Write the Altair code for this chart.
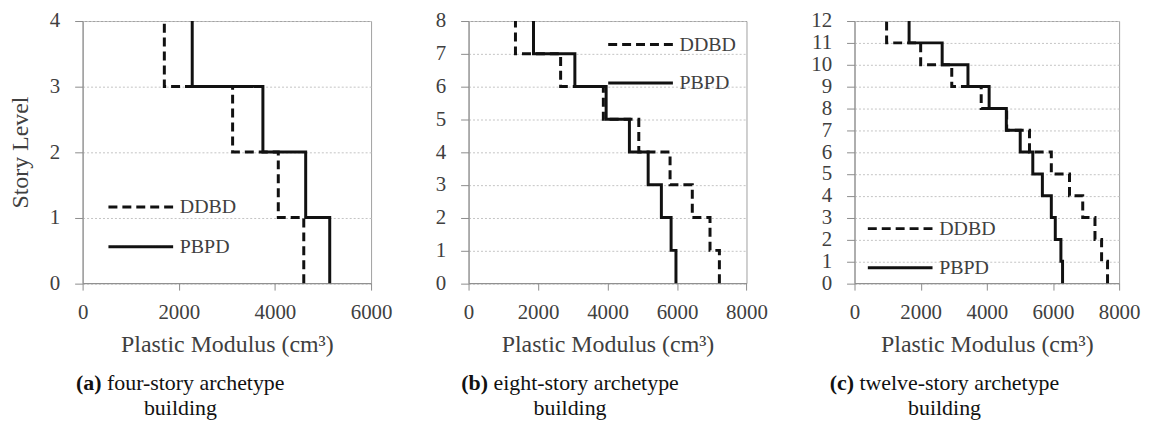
import altair as alt
import pandas as pd

# ---------------- data ----------------
SERIES = ["DDBD", "PBPD"]

# plastic modulus (cm^3) per story, story 1 (bottom) .. story n (top)
A_DDBD = [4600, 4070, 3120, 1700]
A_PBPD = [5140, 4640, 3750, 2280]

B_DDBD = [7220, 6950, 6440, 5800, 4900, 3880, 2650, 1350]
B_PBPD = [5970, 5830, 5550, 5170, 4630, 3960, 3060, 1870]

C_DDBD = [7650, 7470, 7270, 6900, 6500, 5950, 5290, 4600, 3830, 2940, 2000, 970]
C_PBPD = [6290, 6240, 6070, 5950, 5680, 5390, 5010, 4590, 4070, 3430, 2650, 1650]

X_TICKS_A = [0, 2000, 4000, 6000]
X_TICKS_BC = [0, 2000, 4000, 6000, 8000]

X_TITLE = "Plastic Modulus (cm³)"
Y_TITLE = "Story Level"
CAPTION_TAGS = ["(a)", "(b)", "(c)"]
CAPTION_TEXT = ["four-story archetype", "eight-story archetype", "twelve-story archetype"]
CAPTION_LINE2 = "building"

FONT = "Liberation Serif"
TEXT_COLOR = "#404040"
AXIS_COLOR = "#8c8c8c"


def steps(ddbd, pbpd):
    rows = []
    for name, vals in zip(SERIES, [ddbd, pbpd]):
        k = 0
        for i, v in enumerate(vals):
            rows.append({"series": name, "x": v, "y": i, "k": k})
            k += 1
            rows.append({"series": name, "x": v, "y": i + 1, "k": k})
            k += 1
    return pd.DataFrame(rows)


def panel(ddbd, pbpd, xticks, width, height, ytitle, ylabpad, legxy, rowpad,
          tag, text, cap_x0, tag_w, cap_w):
    n = len(ddbd)
    df = steps(ddbd, pbpd)
    common = dict(labelFont=FONT, titleFont=FONT, labelFontSize=21, titleFontSize=24,
                  titleFontWeight="normal", labelColor=TEXT_COLOR, titleColor=TEXT_COLOR,
                  domainColor=AXIS_COLOR, tickColor=AXIS_COLOR,
                  labelFlush=False, labelOverlap=False, format="d")
    xaxis = alt.Axis(values=xticks, grid=False, tickSize=7,
                     labelPadding=12, titlePadding=10, title=X_TITLE, **common)
    yaxis = alt.Axis(values=list(range(n + 1)), grid=True,
                     gridDash=[2, 2], gridColor="#c4c4c4", gridWidth=1,
                     tickSize=8, labelPadding=ylabpad, titlePadding=17,
                     title=ytitle if ytitle else None, **common)
    legend = alt.Legend(orient="none", legendX=legxy[0], legendY=legxy[1],
                        title=None, symbolType="M-3,0H3", symbolSize=470,
                        symbolStrokeWidth=3, symbolStrokeColor="#111111",
                        symbolFillColor="transparent", labelFont=FONT,
                        labelFontSize=20, labelColor=TEXT_COLOR,
                        labelOffset=26.7, rowPadding=rowpad, padding=0)
    lines = alt.Chart(df).mark_line(color="#111111", strokeWidth=3,
                                    strokeCap="butt", strokeJoin="miter").encode(
        x=alt.X("x:Q", scale=alt.Scale(domain=[0, xticks[-1]], nice=False), axis=xaxis),
        y=alt.Y("y:Q", scale=alt.Scale(domain=[0, n], nice=False), axis=yaxis),
        strokeDash=alt.StrokeDash("series:N",
                                  scale=alt.Scale(domain=SERIES, range=[[9, 5], [1, 0]]),
                                  legend=legend),
        detail="series:N",
        order="k:Q",
    )
    cap_df = pd.DataFrame({"tag": [tag], "text": [text], "line2": [CAPTION_LINE2]})
    base = alt.Chart(cap_df)
    t1 = base.mark_text(align="left", baseline="alphabetic", font=FONT, fontSize=22,
                        fontWeight="bold", color="#111111").encode(
        text="tag:N", x=alt.value(cap_x0), y=alt.value(370.5))
    t2 = base.mark_text(align="left", baseline="alphabetic", font=FONT, fontSize=22,
                        color="#111111").encode(
        text="text:N", x=alt.value(cap_x0 + tag_w), y=alt.value(370.5))
    t3 = base.mark_text(align="center", baseline="alphabetic", font=FONT, fontSize=22,
                        color="#111111").encode(
        text="line2:N", x=alt.value(cap_x0 + cap_w / 2), y=alt.value(396.5))
    return alt.layer(lines, t1, t2, t3).properties(width=width, height=height)


H = 263.5
pa = panel(A_DDBD, A_PBPD, X_TICKS_A, 290, H, Y_TITLE, 15, (46, 174.5), 17,
           CAPTION_TAGS[0], CAPTION_TEXT[0], -6.7, 31.2, 210)
pb = panel(B_DDBD, B_PBPD, X_TICKS_BC, 279.4, H, None, 15, (160.4, 11.2), 15.6,
           CAPTION_TAGS[1], CAPTION_TEXT[1], -7.3, 32.4, 218.7)
pc = panel(C_DDBD, C_PBPD, X_TICKS_BC, 266, H, None, 15, (33.4, 196.2), 16.3,
           CAPTION_TAGS[2], CAPTION_TEXT[2], -25, 29.9, 231)

chart = alt.hconcat(pa, pb, pc, spacing=42).resolve_scale(
    x="independent", y="independent", strokeDash="independent"
).resolve_legend(strokeDash="independent").properties(padding=0).configure(
    font=FONT
).configure_view(
    stroke="#a0a0a0", strokeWidth=1
).configure_axis(
    labelFont=FONT, titleFont=FONT, labelFontSize=21, titleFontSize=24,
    titleFontWeight="normal", labelColor=TEXT_COLOR, titleColor=TEXT_COLOR,
    domainColor=AXIS_COLOR, tickColor=AXIS_COLOR
).configure_legend(labelFont=FONT)

chart.save("out.html", embed_options={"renderer": "svg", "actions": False})
